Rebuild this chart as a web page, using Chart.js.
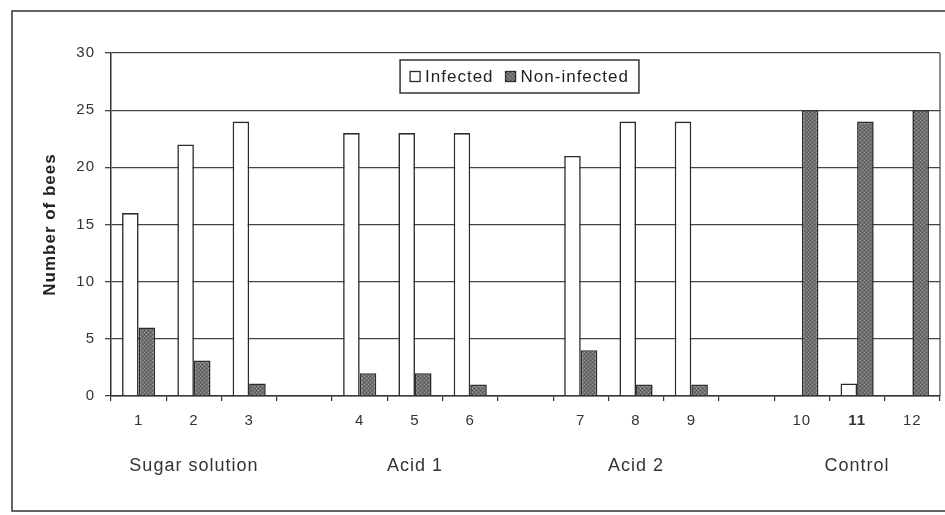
<!DOCTYPE html>
<html>
<head>
<meta charset="utf-8">
<title>Number of bees</title>
<script src="https://cdn.jsdelivr.net/npm/chart.js@4.4.0/dist/chart.umd.min.js"></script>
<style>
  html, body { margin: 0; padding: 0; background: #fff; }
  #wrap { position: relative; width: 945px; height: 515px; }
</style>
</head>
<body>
<div id="wrap"><canvas id="bees-chart" width="945" height="515"></canvas></div>
<script>
// data
var categories = ['1', '2', '3', '', '4', '5', '6', '', '7', '8', '9', '', '10', '11', '12'];
var groupLabels = ['', 'Sugar solution', '', '', '', 'Acid 1', '', '', '', 'Acid 2', '', '', '', 'Control', ''];
var infected = [16, 22, 24, null, 23, 23, 23, null, 21, 24, 24, null, 0, 1.1, 0];
var nonInfected = [6, 3.1, 1.1, null, 2, 2, 1, null, 4, 1, 1, null, 25, 24, 25];
var yTicks = [0, 5, 10, 15, 20, 25, 30];

var FONT = "'Liberation Sans', Arial, sans-serif";
var INK = '#2b2b2b';

// mottled grey fill like the printed "Non-infected" bars
function greyPattern() {
    var c = document.createElement('canvas');
    c.width = 4; c.height = 4;
    var g = c.getContext('2d');
    g.fillStyle = '#6f6f6f';
    g.fillRect(0, 0, 4, 4);
    g.fillStyle = '#9a9a9a';
    g.fillRect(0, 0, 1, 1);
    g.fillRect(2, 2, 1, 1);
    g.fillStyle = '#555';
    g.fillRect(2, 0, 1, 1);
    g.fillRect(0, 2, 1, 1);
    return g.createPattern(c, 'repeat');
}

// the scanned lettering is a bit wider than the plain font
var spacing = {
    id: 'spacing',
    beforeInit: function(chart) { chart.ctx.letterSpacing = '1px'; },
    beforeDraw: function(chart) { chart.ctx.letterSpacing = '1px'; }
};

// page frame and plot border on the right
var framePlugin = {
    id: 'frame',
    afterDraw: function(chart) {
        var ctx = chart.ctx, a = chart.chartArea;
        ctx.save();
        ctx.strokeStyle = '#333';
        ctx.lineWidth = 1.5;
        ctx.strokeRect(12, 11, 960, 500);
        ctx.lineWidth = 1.2;
        ctx.strokeStyle = '#444';
        ctx.beginPath();
        ctx.moveTo(a.right, a.top);
        ctx.lineTo(a.right, a.bottom);
        ctx.stroke();
        ctx.restore();
    }
};

// boxed legend sitting inside the plot, under the 30 gridline
var boxLegend = {
    id: 'boxLegend',
    afterDraw: function(chart) {
        var ctx = chart.ctx, a = chart.chartArea;
        var sets = chart.data.datasets;
        var box = 10, gap = 5, itemGap = 12, pad = 10;
        ctx.save();
        ctx.font = '17px ' + FONT;
        var widths = sets.map(function(d) { return ctx.measureText(d.label).width; });
        var total = pad * 2;
        widths.forEach(function(w, i) { total += box + gap + w + (i ? itemGap : 0); });
        var h = 33;
        var left = (a.left + a.right) / 2 - 6 - total / 2;
        var top = a.top + 7;
        ctx.fillStyle = '#fff';
        ctx.fillRect(left, top, total, h);
        ctx.strokeStyle = '#333';
        ctx.lineWidth = 1.5;
        ctx.strokeRect(left, top, total, h);
        var x = left + pad, cy = top + h / 2;
        ctx.textBaseline = 'middle';
        sets.forEach(function(d, i) {
            if (i) x += itemGap;
            ctx.fillStyle = d.backgroundColor;
            ctx.fillRect(x, cy - box / 2, box, box);
            ctx.lineWidth = 1.3;
            ctx.strokeStyle = INK;
            ctx.strokeRect(x, cy - box / 2, box, box);
            x += box + gap;
            ctx.fillStyle = '#222';
            ctx.fillText(d.label, x, cy + 1);
            x += widths[i];
        });
        ctx.restore();
    }
};

var ctx = document.getElementById('bees-chart').getContext('2d');
new Chart(ctx, {
    type: 'bar',
    data: {
        labels: categories,
        datasets: [{
            label: 'Infected',
            data: infected,
            backgroundColor: '#ffffff',
            borderColor: INK,
            borderWidth: 1.6
        }, {
            label: 'Non-infected',
            data: nonInfected,
            backgroundColor: greyPattern(),
            borderColor: INK,
            borderWidth: 1.6
        }]
    },
    options: {
        responsive: false,
        animation: false,
        layout: { padding: { left: 36, top: 53, right: 5, bottom: 36 } },
        datasets: {
            bar: { categoryPercentage: 0.6, barPercentage: 1.0, grouped: true }
        },
        plugins: {
            legend: { display: false },
            tooltip: { enabled: false }
        },
        scales: {
            x: {
                type: 'category',
                offset: true,
                grid: {
                    offset: true,
                    drawOnChartArea: false,
                    drawTicks: true,
                    tickLength: 5,
                    color: '#333',
                    lineWidth: 1.2
                },
                border: { display: true, color: '#333', width: 1.5 },
                ticks: {
                    autoSkip: false,
                    maxRotation: 0,
                    padding: 11,
                    color: '#333',
                    font: function(c) {
                        return { family: FONT, size: 15, weight: c.tick && c.tick.label === '11' ? 'bold' : 'normal' };
                    }
                },
                afterFit: function(scale) { scale.height = 33; }
            },
            x2: {
                type: 'category',
                position: 'bottom',
                labels: groupLabels,
                offset: true,
                grid: { display: false, drawTicks: false },
                border: { display: false },
                ticks: {
                    autoSkip: false,
                    maxRotation: 0,
                    padding: 26,
                    color: '#333',
                    font: { family: FONT, size: 18 }
                },
                afterFit: function(scale) { scale.height = 50; }
            },
            y: {
                min: 0,
                max: 30,
                afterBuildTicks: function(scale) {
                    scale.ticks = yTicks.map(function(v) { return { value: v }; });
                },
                grid: {
                    color: '#444',
                    lineWidth: 1.3,
                    tickLength: 6
                },
                border: { display: true, color: '#333', width: 1.5 },
                ticks: {
                    padding: 10,
                    color: '#333',
                    font: { family: FONT, size: 15 }
                },
                title: {
                    display: true,
                    text: 'Number of bees',
                    color: '#222',
                    font: { family: FONT, size: 17, weight: 'bold' }
                },
                afterFit: function(scale) { scale.width = 75; }
            }
        }
    },
    plugins: [spacing, framePlugin, boxLegend]
});
</script>
</body>
</html>
